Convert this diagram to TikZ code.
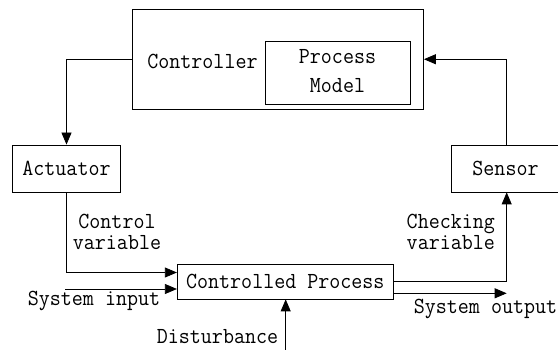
\documentclass[tikz,border=0pt]{standalone}
\usepackage{fontspec}
\newfontfamily\difont[FakeStretch=0.93]{Latin Modern Mono}
\usetikzlibrary{arrows.meta}
\begin{document}
\begin{tikzpicture}[x=1pt,y=-1pt,
  every node/.style={font=\difont\fontsize{23}{21.7}\selectfont, inner sep=0pt},
  box/.style={draw, line width=0.8pt},
  arr/.style={-{Triangle[length=12pt,width=10pt]}},
  line width=0.8pt]
\useasboundingbox (0,0) rectangle (558,350);
% boxes
\node[box, minimum width=291pt, minimum height=100.5pt] (ctrl) at (278,59.25) {};
\node[anchor=base west] (ctrltxt) at (147,68.3) {Controller};
\node[box, minimum width=145pt, minimum height=62.3pt] (pm) at (338.2,72.85) {};
\node[anchor=base] (pmtxt) at (337.5,64) {\begin{tabular}[t]{@{}c@{}}Process\\[6.6pt]Model\end{tabular}};
\node[box, minimum width=108pt, minimum height=47pt] (act) at (66.5,168.5) {Actuator};
\node[box, minimum width=107.5pt, minimum height=47pt] (sens) at (505.5,168.5) {Sensor};
\node[box, minimum width=216pt, minimum height=34.7pt] (cp) at (285.3,281.65) {Controlled Process};
% helper coordinates
\coordinate (sx) at (506.7,0);
\coordinate (cin) at (0,272.5);
\coordinate (sin) at (65,289);
\coordinate (sout) at (0,293.3);
\coordinate (dist) at (285.7,351);
% connectors
\draw[arr] (ctrl.west) -| (act.north);
\draw[arr] (sens.north -| sx) |- (ctrl.east);
\draw[arr] (act.south) |- (cp.west |- cin);
\draw[arr] (sin) -- (cp.west |- sin);
\draw[arr] (cp.east) -| (sens.south -| sx);
\draw[arr] (cp.east |- sout) -- (sx |- sout);
\draw[arr] (dist) -- (cp.south -| dist);
% labels
\node[anchor=base] (cv) at (117,228.3) {\begin{tabular}[t]{@{}c@{}}Control\\variable\end{tabular}};
\node[anchor=base] (chk) at (450.8,228.3) {\begin{tabular}[t]{@{}c@{}}Checking\\variable\end{tabular}};
\node[anchor=base] (si) at (94,305.6) {System input};
\node[anchor=base] (so) at (485.5,314) {System output};
\node[anchor=base] (dis) at (217.5,343.3) {Disturbance};
\end{tikzpicture}
\end{document}
